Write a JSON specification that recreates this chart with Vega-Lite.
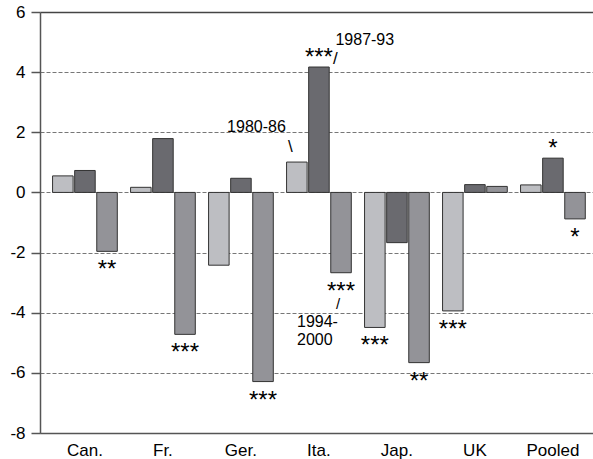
{
  "$schema": "https://vega.github.io/schema/vega-lite/v6.json",
  "width": 553,
  "height": 421,
  "autosize": {"type": "none"},
  "padding": {"left": 40, "top": 12, "right": 0, "bottom": 26},
  "config": {"view": {"stroke": null}, "font": "Liberation Sans"},
  "encoding": {
    "x": {
      "field": "country",
      "type": "nominal",
      "sort": ["Can.", "Fr.", "Ger.", "Ita.", "Jap.", "UK", "Pooled"],
      "scale": {"paddingInner": 0.17, "paddingOuter": 0.13, "align": 0.62},
      "axis": {
        "title": null,
        "labelFontSize": 17,
        "labelColor": "#000",
        "labelAngle": 0,
        "ticks": false,
        "domainColor": "#555",
        "domainWidth": 1.5,
        "labelPadding": 9
      }
    },
    "xOffset": {
      "field": "period",
      "type": "nominal",
      "sort": ["1980-86", "1987-93", "1994-2000"],
      "scale": {"paddingInner": 0.07, "paddingOuter": 0}
    },
    "y": {
      "field": "value",
      "type": "quantitative",
      "scale": {"domain": [-8, 6], "nice": false},
      "axis": {
        "title": null,
        "values": [-8, -6, -4, -2, 0, 2, 4, 6],
        "labelExpr": "'' + datum.value",
        "labelFontSize": 17,
        "labelColor": "#000",
        "labelPadding": 6,
        "tickSize": 9,
        "tickColor": "#555",
        "tickWidth": 1.5,
        "domainColor": "#555",
        "domainWidth": 1.5,
        "grid": true,
        "gridColor": {"condition": {"test": "datum.value === 6", "value": "#444"}, "value": "#777"},
        "gridWidth": {"condition": {"test": "datum.value === 6", "value": 1.5}, "value": 1},
        "gridDash": {"condition": {"test": "datum.value === 6", "value": []}, "value": [4, 2]}
      }
    }
  },
  "datasets": {
    "bars": [
      {"country": "Can.", "period": "1980-86", "value": 0.55, "stars": ""},
      {"country": "Can.", "period": "1987-93", "value": 0.73, "stars": ""},
      {"country": "Can.", "period": "1994-2000", "value": -1.96, "stars": "**"},
      {"country": "Fr.", "period": "1980-86", "value": 0.17, "stars": ""},
      {"country": "Fr.", "period": "1987-93", "value": 1.79, "stars": ""},
      {"country": "Fr.", "period": "1994-2000", "value": -4.72, "stars": "***"},
      {"country": "Ger.", "period": "1980-86", "value": -2.42, "stars": ""},
      {"country": "Ger.", "period": "1987-93", "value": 0.47, "stars": ""},
      {"country": "Ger.", "period": "1994-2000", "value": -6.29, "stars": "***"},
      {"country": "Ita.", "period": "1980-86", "value": 1.01, "stars": ""},
      {"country": "Ita.", "period": "1987-93", "value": 4.17, "stars": "***"},
      {"country": "Ita.", "period": "1994-2000", "value": -2.67, "stars": "***"},
      {"country": "Jap.", "period": "1980-86", "value": -4.49, "stars": "***"},
      {"country": "Jap.", "period": "1987-93", "value": -1.67, "stars": ""},
      {"country": "Jap.", "period": "1994-2000", "value": -5.66, "stars": "**"},
      {"country": "UK", "period": "1980-86", "value": -3.94, "stars": "***"},
      {"country": "UK", "period": "1987-93", "value": 0.26, "stars": ""},
      {"country": "UK", "period": "1994-2000", "value": 0.2, "stars": ""},
      {"country": "Pooled", "period": "1980-86", "value": 0.25, "stars": ""},
      {"country": "Pooled", "period": "1987-93", "value": 1.14, "stars": "*"},
      {"country": "Pooled", "period": "1994-2000", "value": -0.88, "stars": "*"}
    ]
  },
  "layer": [
    {
      "data": {"name": "bars"},
      "mark": {"type": "bar", "stroke": "#333", "strokeWidth": 1},
      "encoding": {
        "color": {
          "field": "period",
          "type": "nominal",
          "scale": {"domain": ["1980-86", "1987-93", "1994-2000"], "range": ["#bdbec2", "#6a6a6f", "#939398"]},
          "legend": null
        }
      }
    },
    {
      "data": {"name": "bars"},
      "transform": [{"filter": "datum.value < 0 && datum.stars != ''"}],
      "mark": {"type": "text", "fontSize": 24, "baseline": "top", "dy": 7, "color": "#000"},
      "encoding": {"text": {"field": "stars"}}
    },
    {
      "data": {"name": "bars"},
      "transform": [{"filter": "datum.value > 0 && datum.stars != ''"}],
      "mark": {"type": "text", "fontSize": 24, "baseline": "alphabetic", "dy": -2.5, "color": "#000"},
      "encoding": {"text": {"field": "stars"}}
    },
    {
      "data": {"values": [{"country": "Ita.", "period": "1980-86", "value": 2.0, "label": "1980-86"}]},
      "mark": {"type": "text", "fontSize": 16, "align": "right", "baseline": "alphabetic", "dx": -11, "color": "#000"},
      "encoding": {"text": {"field": "label"}}
    },
    {
      "data": {"values": [{"country": "Ita.", "period": "1980-86", "value": 1.5, "label": "\\"}]},
      "mark": {"type": "text", "fontSize": 17, "align": "center", "baseline": "middle", "dx": -6.5, "color": "#000"},
      "encoding": {"text": {"field": "label"}}
    },
    {
      "data": {"values": [{"country": "Ita.", "period": "1987-93", "value": 4.9, "label": "1987-93"}]},
      "mark": {"type": "text", "fontSize": 16, "align": "left", "baseline": "alphabetic", "dx": 16.5, "color": "#000"},
      "encoding": {"text": {"field": "label"}}
    },
    {
      "data": {"values": [{"country": "Ita.", "period": "1987-93", "value": 4.45, "label": "/"}]},
      "mark": {"type": "text", "fontSize": 17, "align": "center", "baseline": "middle", "dx": 16.5, "color": "#000"},
      "encoding": {"text": {"field": "label"}}
    },
    {
      "data": {"values": [{"country": "Ita.", "period": "1994-2000", "value": -3.72, "label": "/"}]},
      "mark": {"type": "text", "fontSize": 15, "align": "center", "baseline": "middle", "dx": -3, "color": "#000"},
      "encoding": {"text": {"field": "label"}}
    },
    {
      "data": {"values": [{"country": "Ita.", "period": "1994-2000", "value": -4.47, "label": "1994-\n2000"}]},
      "mark": {"type": "text", "fontSize": 16, "align": "left", "baseline": "alphabetic", "dx": -44, "lineBreak": "\n", "lineHeight": 18, "color": "#000"},
      "encoding": {"text": {"field": "label"}}
    }
  ]
}
